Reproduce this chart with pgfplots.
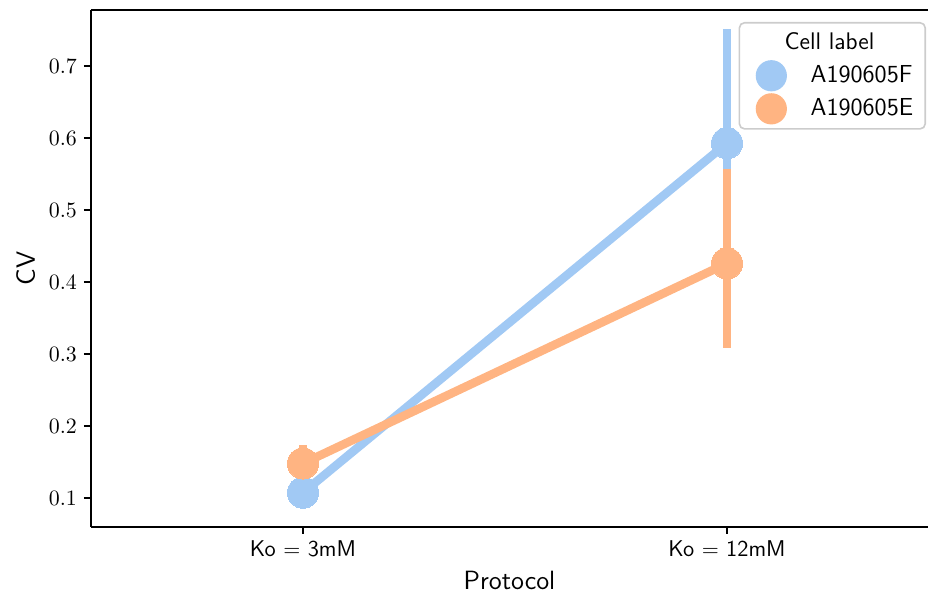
\documentclass[border=0pt]{standalone}
\usepackage{pgfplots}
\pgfplotsset{compat=1.18}
\definecolor{cblue}{HTML}{A1C9F4}
\definecolor{corange}{HTML}{FFB482}
\begin{document}
\begin{tikzpicture}
\useasboundingbox (-45.5pt,-33.5pt) rectangle (418.5pt,263.5pt);
\begin{axis}[
  scale only axis, width=418.5pt, height=258.5pt,
  xmin=-0.5, xmax=1.474, ymin=0.0597, ymax=0.778,
  axis x line=box, axis y line*=left,
  axis line style={black, line width=0.7pt},
  xtick={0,1}, xticklabels={Ko $=$ 3mM, Ko $=$ 12mM},
  ytick={0.1,0.2,0.3,0.4,0.5,0.6,0.7},
  yticklabel style={/pgf/number format/fixed, /pgf/number format/precision=1},
  tick align=outside, major tick length=3.5pt,
  tick style={black, line width=0.7pt},
  xtick pos=bottom, ytick pos=left,
  ticklabel style={font=\fontsize{11.2}{13}\selectfont},
  x tick label style={font=\sffamily\fontsize{11.4}{13}\selectfont},
  xlabel={Protocol}, ylabel={CV},
  label style={font=\sffamily\fontsize{13.2}{15}\selectfont},
  legend cell align=left,
  legend style={at={(1,1)}, anchor=north east, xshift=-1pt, yshift=-6pt,
    draw=black!20, fill=white,
    rounded corners=2.5pt, line width=0.8pt,
    font=\sffamily\fontsize{12.3}{14}\selectfont,
    row sep=2.5pt, inner xsep=4pt, inner ysep=3pt},
]
\addlegendimage{empty legend}
\addlegendentry{\hspace*{-13pt}\fontsize{12}{14}\selectfont Cell label}
\addplot[cblue, line width=4.3pt, mark=*, mark size=7.8pt,
  mark options={fill=cblue, draw=none, line width=0pt},
  legend image code/.code={\begin{pgfinterruptboundingbox}\fill[cblue, draw=none] (0.42cm,0pt) circle (7.8pt);\end{pgfinterruptboundingbox}\path[draw=none, fill=none] (0cm,0pt) (1.04cm,0pt);},
  error bars/.cd, y dir=both, y explicit, error mark=none,
  error bar style={line width=4.3pt, cblue}]
coordinates {
  (0,0.1074) += (0,0.012) -= (0,0.012)
  (1,0.593) += (0,0.158) -= (0,0.157)
};
\addlegendentry{A190605F}
\addplot[corange, line width=4.3pt, mark=*, mark size=7.8pt,
  mark options={fill=corange, draw=none, line width=0pt},
  legend image code/.code={\begin{pgfinterruptboundingbox}\fill[corange, draw=none] (0.42cm,0pt) circle (7.8pt);\end{pgfinterruptboundingbox}\path[draw=none, fill=none] (0cm,0pt) (1.04cm,0pt);},
  error bars/.cd, y dir=both, y explicit, error mark=none,
  error bar style={line width=4.3pt, corange}]
coordinates {
  (0,0.148) += (0,0.025) -= (0,0.030)
  (1,0.426) += (0,0.131) -= (0,0.117)
};
\addlegendentry{A190605E}
\end{axis}
\end{tikzpicture}
\end{document}
